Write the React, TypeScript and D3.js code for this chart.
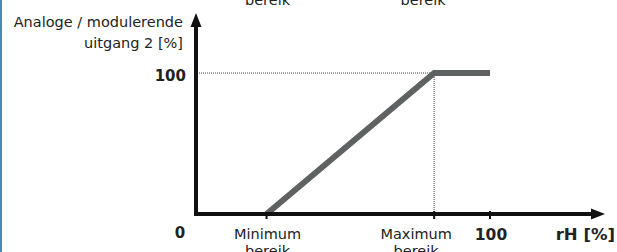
import React, { useEffect, useRef } from 'react';
import * as d3 from 'd3';

// curve: relative humidity vs. output
const rhValues = [24, 81, 100];
const outputValues = [0, 100, 100];

const xTickValues = [24, 81, 100];
const xTickLabels = [['Minimum', 'bereik'], ['Maximum', 'bereik'], ['100']];
const yTickLabels = ['0', '100'];
const yTitle = ['Analoge / modulerende', 'uitgang 2 [%]'];
const xTitle = 'rH [%]';

const App = () => {
  const ref = useRef<SVGSVGElement>(null);

  useEffect(() => {
    const width = 617;
    const height = 252;
    const font = '"DejaVu Sans", Verdana, sans-serif';

    const svg = d3.select(ref.current);
    svg.selectAll('*').remove();

    const x = d3.scaleLinear().domain([0, 100]).range([196, 490]);
    const y = d3.scaleLinear().domain([0, 100]).range([214, 73]);

    // left blue border
    svg.append('rect').attr('x', 0).attr('y', 0).attr('width', 2).attr('height', height).attr('fill', '#4a86b8');

    // top labels, cut off by the frame
    [24, 81].forEach((v, i) => {
      svg.append('text')
        .attr('x', x(v) + (i === 0 ? 1 : -11))
        .attr('y', 5)
        .attr('text-anchor', 'middle')
        .style('font-family', font)
        .style('font-size', '14.5px')
        .style('fill', '#222')
        .text('bereik');
    });

    // dotted guides
    const xMax = x(rhValues[1]);
    const yMax = y(100);
    svg.append('line')
      .attr('x1', x(0) + 3).attr('x2', xMax).attr('y1', yMax).attr('y2', yMax)
      .attr('stroke', '#444').attr('stroke-width', 1).attr('stroke-dasharray', '1,1');
    svg.append('line')
      .attr('x1', xMax).attr('x2', xMax).attr('y1', yMax).attr('y2', y(0))
      .attr('stroke', '#444').attr('stroke-width', 1).attr('stroke-dasharray', '1,1');

    // the curve
    const line = d3.line<number>()
      .x((d, i) => x(rhValues[i]))
      .y((d) => y(d));
    svg.append('path')
      .attr('d', line(outputValues))
      .attr('fill', 'none')
      .attr('stroke', '#5f6263')
      .attr('stroke-width', 6)
      .attr('stroke-linejoin', 'miter')
      .attr('stroke-linecap', 'butt');

    // axes
    svg.append('line')
      .attr('x1', x(0)).attr('x2', x(0)).attr('y1', y(0) + 2).attr('y2', 24)
      .attr('stroke', '#111').attr('stroke-width', 4);
    svg.append('path')
      .attr('d', `M${x(0)},13 L${x(0) + 5.5},27 L${x(0) - 5.5},27 Z`)
      .attr('fill', '#111');
    svg.append('line')
      .attr('x1', x(0) - 2).attr('x2', 594).attr('y1', y(0)).attr('y2', y(0))
      .attr('stroke', '#111').attr('stroke-width', 4);
    svg.append('path')
      .attr('d', `M605,${y(0)} L591,${y(0) - 5.5} L591,${y(0) + 5.5} Z`)
      .attr('fill', '#111');

    // x ticks
    xTickValues.forEach((v, i) => {
      svg.append('line')
        .attr('x1', x(v)).attr('x2', x(v))
        .attr('y1', i === 0 ? y(0) : y(0) - 3).attr('y2', y(0) + 5)
        .attr('stroke', '#111').attr('stroke-width', 2);
      const lbl = xTickLabels[i];
      const bold = lbl.length === 1;
      const t = svg.append('text')
        .attr('x', x(v) + (i === 1 ? -18 : 1))
        .attr('y', bold ? 240 : 239)
        .attr('text-anchor', 'middle')
        .style('font-family', font)
        .style('font-size', bold ? '15.5px' : '14.5px')
        .style('font-weight', bold ? 'bold' : 'normal')
        .style('fill', '#222');
      lbl.forEach((s, j) => {
        t.append('tspan').attr('x', x(v) + (i === 1 ? -18 : 1)).attr('dy', j === 0 ? 0 : 17).text(s);
      });
    });

    // y tick labels
    svg.append('text')
      .attr('x', 180).attr('y', 238).attr('text-anchor', 'middle')
      .style('font-family', font).style('font-size', '15px').style('font-weight', 'bold').style('fill', '#222')
      .text(yTickLabels[0]);
    svg.append('text')
      .attr('x', 186).attr('y', 81).attr('text-anchor', 'end')
      .style('font-family', font).style('font-size', '15px').style('font-weight', 'bold').style('fill', '#222')
      .text(yTickLabels[1]);

    // titles
    yTitle.forEach((s, i) => {
      svg.append('text')
        .attr('x', 183).attr('y', 27 + i * 21).attr('text-anchor', 'end')
        .style('font-family', font).style('font-size', '14.5px').style('fill', '#222')
        .text(s);
    });
    svg.append('text')
      .attr('x', 615).attr('y', 240).attr('text-anchor', 'end')
      .style('font-family', font).style('font-size', '16.5px').style('font-weight', 'bold').style('fill', '#222')
      .text(xTitle);

    svg.attr('width', width).attr('height', height);
  }, []);

  return (
    <svg
      ref={ref}
      width={617}
      height={252}
      style={{ position: 'absolute', left: 0, top: 0, display: 'block', background: '#fff' }}
    />
  );
};

export default App;
